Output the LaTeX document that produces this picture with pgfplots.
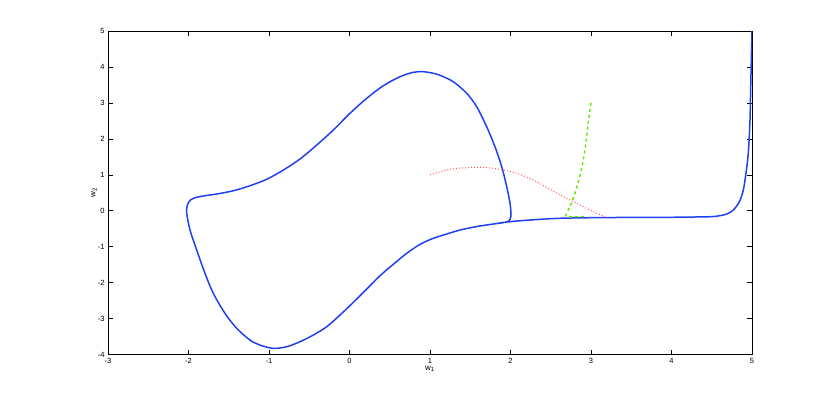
\documentclass[border=0pt]{standalone}
\usepackage{pgfplots}
\pgfplotsset{compat=1.18}
\usepackage{fontspec}
\setmainfont{Liberation Sans}
\definecolor{mblue}{rgb}{0.13,0.25,0.95}
\definecolor{mred}{rgb}{1,0.35,0.35}
\definecolor{mgreen}{rgb}{0.35,0.92,0.0}
\begin{document}
\begin{tikzpicture}
\begin{axis}[
  at={(0,0)}, anchor=south west,
  scale only axis, width=644pt, height=323.5pt,
  xmin=-3, xmax=5, ymin=-4, ymax=5,
  xtick={-3,-2,...,5}, ytick={-4,-3,...,5},
  tick align=inside, major tick length=5pt,
  tick style={black, line width=0.5pt},
  axis line style={line width=0.6pt},
  /pgf/number format/assume math mode=true,
  ticklabel style={font=\fontsize{7.5}{9}\selectfont},
  xlabel={w\textsubscript{1}}, ylabel={w\textsubscript{2}},
  label style={font=\fontsize{8}{9}\selectfont},
  xlabel style={yshift=4pt},
  ylabel style={yshift=-6pt},
  clip=true,
]
\addplot[mblue, line width=1.5pt, smooth, tension=0.5] coordinates {
(5.0,5.0) (4.984,3.45) (4.975,2.52) (4.954,1.60) (4.925,1.04) (4.892,0.576)
(4.843,0.25) (4.768,0.02) (4.686,-0.092) (4.578,-0.147) (4.478,-0.167)
(4.271,-0.175) (3.857,-0.185) (3.195,-0.19) (2.615,-0.21) (2.201,-0.265)
(1.953,-0.315) (1.786,-0.37) (1.580,-0.44) (1.373,-0.537) (1.207,-0.648)
(1.041,-0.768) (0.876,-0.935) (0.711,-1.185) (0.544,-1.491) (0.379,-1.809)
(0.214,-2.179) (0.047,-2.549) (-0.118,-2.902) (-0.283,-3.228) (-0.450,-3.459)
(-0.615,-3.645) (-0.780,-3.784) (-0.947,-3.829) (-1.112,-3.737)
(-1.236,-3.598) (-1.401,-3.272) (-1.547,-2.855) (-1.692,-2.298)
(-1.795,-1.742) (-1.898,-1.093) (-1.981,-0.537) (-2.022,-0.072) (-2.015,0.15)
(-1.975,0.3) (-1.907,0.37) (-1.816,0.41) (-1.650,0.465) (-1.443,0.556)
(-1.236,0.696) (-1.029,0.874) (-0.822,1.132) (-0.615,1.438) (-0.407,1.828)
(-0.201,2.245) (0.006,2.710) (0.214,3.127) (0.420,3.478) (0.627,3.728)
(0.793,3.851) (0.917,3.868) (1.041,3.823) (1.124,3.768) (1.289,3.589)
(1.456,3.267) (1.580,2.894) (1.704,2.337) (1.807,1.781) (1.891,1.224)
(1.953,0.668) (1.994,0.206) (2.006,-0.15) (1.975,-0.29) (1.90,-0.335)
(1.786,-0.37)
};
\addplot[mred, line width=1pt, dotted, smooth] coordinates {
(1.0,1.0) (1.248,1.152) (1.456,1.197) (1.662,1.208) (1.870,1.152)
(2.077,1.041) (2.283,0.854) (2.491,0.595) (2.698,0.345) (2.904,0.111)
(3.029,-0.028) (3.18,-0.18)
};
\addplot[mgreen, line width=1.4pt, dashed, smooth, tension=0.5] coordinates {
(3.0,3.0) (2.967,2.476) (2.934,1.828) (2.892,1.272) (2.843,0.807)
(2.780,0.345) (2.718,0.019) (2.685,-0.14) (2.73,-0.17) (2.95,-0.16)
};
\end{axis}
\path (-108pt,-45.5pt) rectangle (722pt,354.5pt);
\end{tikzpicture}
\end{document}
